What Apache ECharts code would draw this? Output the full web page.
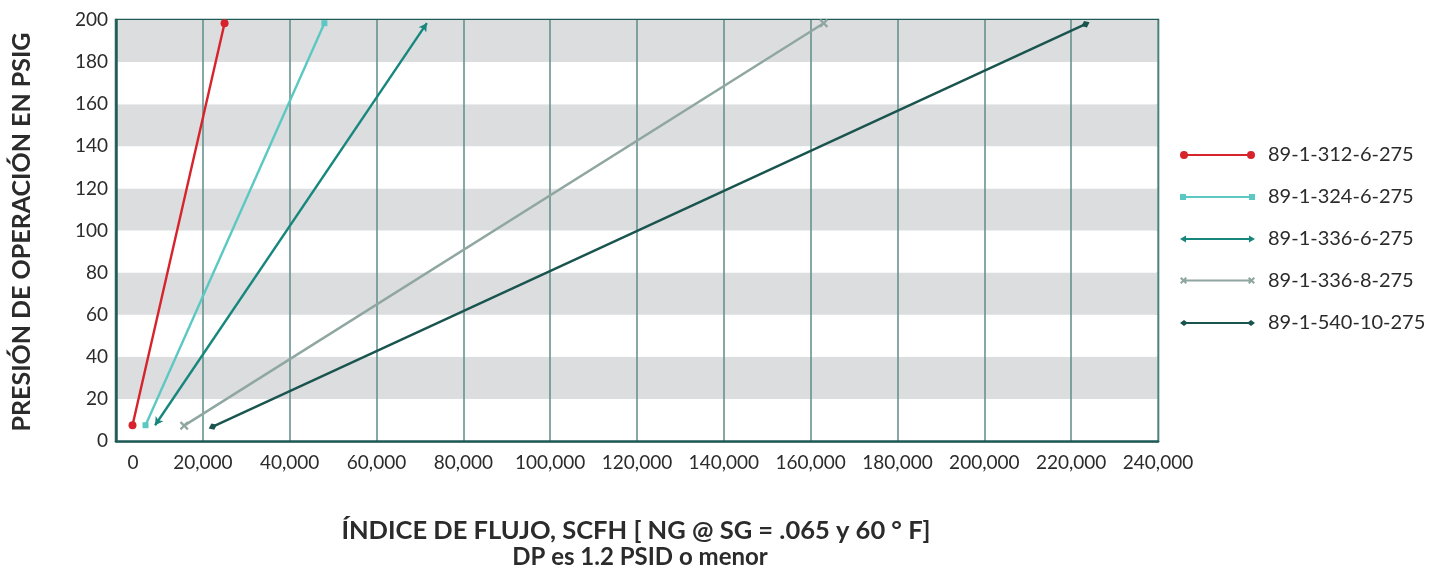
<!DOCTYPE html>
<html><head><meta charset="utf-8">
<script src="https://cdn.jsdelivr.net/npm/echarts@6/dist/echarts.min.js"></script>
<style>html,body{margin:0;padding:0;background:#fff}#c{width:1444px;height:571px}</style>
</head><body><div id="c"></div>
<script>
// ---- data ----
var seriesNames = ['89-1-312-6-275','89-1-324-6-275','89-1-336-6-275','89-1-336-8-275','89-1-540-10-275'];
var s312_6  = [[3800, 7.5], [25000, 198.5]];
var s324_6  = [[6800, 7.5], [48000, 198.5]];
var s336_6  = [[9000, 7.5], [71600, 198.5]];
var s336_8  = [[15700, 7.3], [163000, 198.5]];
var s540_10 = [[22300, 6.8], [223300, 198]];
var xTicks = [0, 20000, 40000, 60000, 80000, 100000, 120000, 140000, 160000, 180000, 200000, 220000, 240000];
var yTicks = [0, 20, 40, 60, 80, 100, 120, 140, 160, 180, 200];

var colors = ['#d7232b', '#5cc8c3', '#17877e', '#8fa6a1', '#1a544f'];
var frame = '#1f5b56';
var FONT = 'Lato';

var crossPath = 'path://M1.8,0 L5,3.2 L8.2,0 L10,1.8 L6.8,5 L10,8.2 L8.2,10 L5,6.8 L1.8,10 L0,8.2 L3.2,5 L0,1.8 Z';
var legendIcons = [
  'path://M0,4 A4,4 0 1,1 8,4 A4,4 0 1,1 0,4 Z M7,3 L68,3 L68,5 L7,5 Z M67,4 A4,4 0 1,1 75,4 A4,4 0 1,1 67,4 Z',
  'path://M0,1 L6,1 L6,7 L0,7 Z M6,3 L69,3 L69,5 L6,5 Z M69,1 L75,1 L75,7 L69,7 Z M0,0 L0.01,0 L0.01,0.01 Z M0,8 L0.01,8 L0.01,7.99 Z',
  'path://M0,4 L6,0.5 L6,7.5 Z M6,3 L69,3 L69,5 L6,5 Z M75,4 L69,7.5 L69,0.5 Z M0,0 L0.01,0 L0.01,0.01 Z M0,8 L0.01,8 L0.01,7.99 Z',
  'path://M0,1.4 L1.4,0 L3.5,2.1 L5.6,0 L7,1.4 L4.9,3.5 L7,5.6 L5.6,7 L3.5,4.9 L1.4,7 L0,5.6 L2.1,3.5 Z M4,2.6 L71,2.6 L71,4.4 L4,4.4 Z M68,1.4 L69.4,0 L71.5,2.1 L73.6,0 L75,1.4 L72.9,3.5 L75,5.6 L73.6,7 L71.5,4.9 L69.4,7 L68,5.6 L70.1,3.5 Z M0,8 L0.01,8 L0.01,7.99 Z',
  'path://M0,4 L4,1 L8,4 L4,7 Z M6,3 L69,3 L69,5 L6,5 Z M67,4 L71,1 L75,4 L71,7 Z M0,0 L0.01,0 L0.01,0.01 Z M0,8 L0.01,8 L0.01,7.99 Z'
];

var chart = echarts.init(document.getElementById('c'));

function mkSeries(i, data, symbol, size) {
  return {
    name: seriesNames[i], type: 'line', data: data,
    symbol: symbol, symbolSize: size, showSymbol: true,
    lineStyle: { color: colors[i], width: 2.4 },
    itemStyle: { color: colors[i] },
    emphasis: { disabled: true }, animation: false, z: 3
  };
}

var option = {
  animation: false,
  grid: { left: 116, right: 286, top: 20, bottom: 130, show: true, borderColor: frame, borderWidth: 2.5, backgroundColor: 'transparent' },
  xAxis: {
    type: 'value', min: 0, max: 240000, interval: 20000,
    axisLine: { show: true, lineStyle: { color: frame, width: 2.5 } },
    axisTick: { show: false },
    splitLine: { show: true, lineStyle: { color: '#5e8d88', width: 1.5 } },
    axisLabel: {
      margin: 12, color: '#2b2b2b', fontFamily: FONT, fontSize: 19,
      formatter: function (v) { return v === 0 ? '{z|0}' : v.toLocaleString('en-US'); },
      rich: { z: { padding: [0, 0, 0, 34], color: '#2b2b2b', fontFamily: FONT, fontSize: 19 } }
    }
  },
  yAxis: {
    type: 'value', min: 0, max: 200, interval: 20,
    axisLine: { show: true, lineStyle: { color: frame, width: 2.5 } },
    axisTick: { show: false },
    splitLine: { show: false },
    splitArea: { show: true, areaStyle: { color: ['#ffffff', '#dcdddf'] } },
    axisLabel: { margin: 8, color: '#2b2b2b', fontFamily: FONT, fontSize: 19 }
  },
  legend: {
    orient: 'vertical', left: 1180, top: 145, padding: 0,
    itemWidth: 75, itemHeight: 8, itemGap: 22,
    textStyle: { color: '#2b2b2b', fontFamily: FONT, fontSize: 20, lineHeight: 20, padding: [0, 0, 0, 8] },
    selectedMode: false,
    data: seriesNames.map(function (n, i) { return { name: n, icon: legendIcons[i], itemStyle: { color: colors[i] } }; })
  },
  graphic: [
    { type: 'text', x: 22, y: 232, rotation: Math.PI / 2, z: 10,
      style: { text: 'PRESIÓN DE OPERACIÓN EN PSIG', fill: '#2b2b2b', font: 'bold 25px Lato', textAlign: 'center', textVerticalAlign: 'middle' } },
    { type: 'text', x: 636, y: 531, z: 10,
      style: { text: 'ÍNDICE DE FLUJO, SCFH [ NG @ SG = .065 y 60 ° F]', fill: '#2b2b2b', font: 'bold 25.5px Lato', textAlign: 'center', textVerticalAlign: 'middle' } },
    { type: 'text', x: 640, y: 557, z: 10,
      style: { text: 'DP es 1.2 PSID o menor', fill: '#2b2b2b', font: 'bold 24px Lato', textAlign: 'center', textVerticalAlign: 'middle' } }
  ],
  series: [
    mkSeries(0, s312_6, 'circle', 8),
    mkSeries(1, s324_6, 'rect', 6),
    mkSeries(2, s336_6, 'arrow', [7, 8]),
    mkSeries(3, s336_8, crossPath, 9),
    mkSeries(4, s540_10, 'diamond', [7, 9])
  ]
};
chart.setOption(option);

// rotate arrow / diamond symbols along their line, using the chart's own scales
function rotFor(data) {
  var p0 = chart.convertToPixel({ gridIndex: 0 }, data[0]);
  var p1 = chart.convertToPixel({ gridIndex: 0 }, data[1]);
  var th = Math.atan2(p0[1] - p1[1], p1[0] - p0[0]) * 180 / Math.PI;
  return [th + 90, th - 90];
}
var r2 = rotFor(s336_6), r4 = rotFor(s540_10);
chart.setOption({
  series: [
    {}, {},
    { data: [{ value: s336_6[0], symbolRotate: r2[0] }, { value: s336_6[1], symbolRotate: r2[1] }] },
    {},
    { data: [{ value: s540_10[0], symbolRotate: r4[0] }, { value: s540_10[1], symbolRotate: r4[1] }] }
  ]
});
</script></body></html>
